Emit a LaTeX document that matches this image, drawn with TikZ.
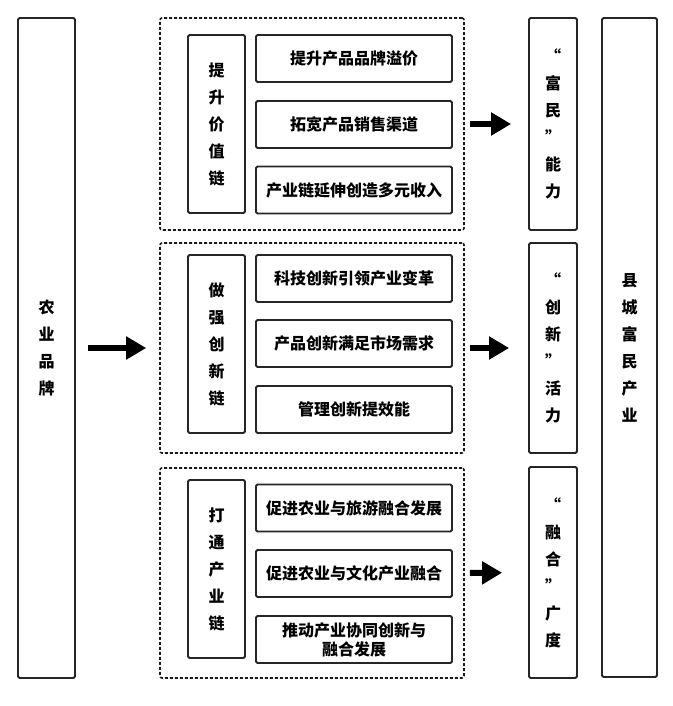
\documentclass[tikz,border=0pt]{standalone}
\usepackage{fontspec}
\newfontfamily\cjk{Noto Sans CJK SC}
\usetikzlibrary{arrows.meta}

\begin{document}
\begin{tikzpicture}[x=1pt,y=-1pt,
  box/.style={draw=black!85, line width=1.8pt, rounded corners=1.5pt, inner sep=0pt, align=center},
  tallbox/.style={box, font=\cjk\bfseries\fontsize{16}{27}\selectfont},
  itembox/.style={box, minimum width=196pt, minimum height=47pt, font=\cjk\bfseries\fontsize{16}{19}\selectfont},
  chainbox/.style={draw=black!90, dash pattern=on 3pt off 2pt, line width=1.6pt, rounded corners=2pt, minimum width=304pt, inner sep=0pt},
  bigarrow/.style={line width=6pt, -{Triangle[length=20pt,width=22pt]}}]

\useasboundingbox (0,0) rectangle (672,706);

% left column
\node[tallbox, minimum width=57pt, minimum height=660pt] (brand) at (46.5,348) {农\\业\\品\\牌};

% dashed groups
\node[chainbox, minimum height=212pt] (chain1) at (312,124) {};
\node[chainbox, minimum height=210pt] (chain2) at (312,348) {};
\node[chainbox, minimum height=210pt] (chain3) at (312,573) {};

% group titles
\node[tallbox, minimum width=57pt, minimum height=178pt] (value) at (216.5,124) {提\\升\\价\\值\\链};
\node[tallbox, minimum width=57pt, minimum height=178pt] (innov) at (216.5,344) {做\\强\\创\\新\\链};
\node[tallbox, minimum width=57pt, minimum height=178pt] (indus) at (216.5,569) {打\\通\\产\\业\\链};

% items of the first group
\node[itembox] (v1) at (354,58.5) {提升产品品牌溢价};
\node[itembox] (v2) at (354,124.5) {拓宽产品销售渠道};
\node[itembox] (v3) at (354,190) {产业链延伸创造多元收入};

% items of the second group
\node[itembox] (n1) at (354,278.5) {科技创新引领产业变革};
\node[itembox] (n2) at (354,343.5) {产品创新满足市场需求};
\node[itembox] (n3) at (354,409.5) {管理创新提效能};

% items of the third group
\node[itembox] (d1) at (354,508) {促进农业与旅游融合发展};
\node[itembox] (d2) at (354,573.5) {促进农业与文化产业融合};
\node[itembox] (d3) at (354,639.5) {推动产业协同创新与\\融合发展};

% results
\node[tallbox, minimum width=48pt, minimum height=212pt] (res1) at (553,124) {“\\富\\民\\”\\能\\力};
\node[tallbox, minimum width=48pt, minimum height=210pt] (res2) at (553,348) {“\\创\\新\\”\\活\\力};
\node[tallbox, minimum width=48pt, minimum height=211pt] (res3) at (553,572.5) {“\\融\\合\\”\\广\\度};

% right column
\node[tallbox, minimum width=55pt, minimum height=659pt] (county) at (629.5,347.5) {县\\城\\富\\民\\产\\业};

% arrows
\draw[bigarrow, shorten <=12pt, shorten >=13pt] (brand.east) -- (chain2.west);
\draw[bigarrow, shorten <=5pt, shorten >=17pt] (chain1.east) -- (res1.west);
\draw[bigarrow, shorten <=5pt, shorten >=19pt] (chain2.east) -- (res2.west);
\draw[bigarrow, shorten <=5pt, shorten >=26pt] (chain3.east) -- (res3.west);

\end{tikzpicture}
\end{document}
